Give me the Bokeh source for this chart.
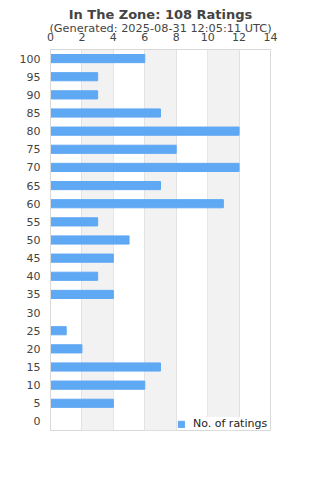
from bokeh.plotting import figure
from bokeh.models import FactorRange, Range1d, Title, Legend, LegendItem, BoxAnnotation, FixedTicker
from bokeh.embed import file_html
from bokeh.resources import INLINE

categories = ["0", "5", "10", "15", "20", "25", "30", "35", "40", "45", "50",
              "55", "60", "65", "70", "75", "80", "85", "90", "95", "100"]
counts = [0, 4, 6, 7, 2, 1, 0, 4, 3, 4, 5, 3, 11, 7, 12, 8, 12, 7, 3, 3, 6]
x_ticks = [0, 2, 4, 6, 8, 10, 12, 14]
shaded_bands = [(2, 4), (6, 8), (10, 12)]

FONT = "DejaVu Sans"
TXT = "#444444"
BAR = "#5fa8f3"

p = figure(width=320, height=480, output_backend="svg", toolbar_location=None,
           y_range=FactorRange(factors=categories, range_padding=0),
           x_range=Range1d(0, 14), x_axis_location="above",
           min_border_left=50, min_border_right=50, min_border_bottom=50, min_border_top=0)

p.title.text = "In The Zone: 108 Ratings"
p.title.align = "center"
p.title.text_font = FONT
p.title.text_font_size = "13px"
p.title.text_font_style = "bold"
p.title.text_color = TXT
p.title.offset = 0
p.title.standoff = 8
sub = Title(text="(Generated: 2025-08-31 12:05:11 UTC)", align="center",
            text_font=FONT, text_font_size="11.3px", text_font_style="normal",
            text_color=TXT, standoff=-11)
p.add_layout(sub, "above")

for a, b in shaded_bands:
    p.add_layout(BoxAnnotation(left=a, right=b, fill_color="#f2f2f2", fill_alpha=1,
                               line_color=None, level="underlay"))

r = p.hbar(y=categories, right=counts, left=0, height=0.45, color=BAR)

p.xaxis.ticker = FixedTicker(ticks=x_ticks)
p.xgrid.ticker = FixedTicker(ticks=x_ticks)
p.xgrid.grid_line_color = "#e0e0e0"
p.ygrid.grid_line_color = None
p.outline_line_color = "#d9d9d9"
p.background_fill_color = "white"

for ax in (p.xaxis[0], p.yaxis[0]):
    ax.axis_line_color = "#d9d9d9"
    ax.major_tick_line_color = None
    ax.minor_tick_line_color = None
    ax.major_label_text_font = FONT
    ax.major_label_text_font_size = "11px"
    ax.major_label_text_color = TXT
    ax.major_label_standoff = 4
p.xaxis.major_label_standoff = 3

legend = Legend(items=[LegendItem(label="No. of ratings", renderers=[r])],
                location=(127, 0), background_fill_color="white", background_fill_alpha=1,
                border_line_color=None, label_text_font=FONT, label_text_font_size="11px",
                label_text_color="#222222", glyph_width=8, glyph_height=8,
                label_standoff=8, padding=4, margin=0, label_height=12)
p.add_layout(legend)

open("out.html", "w").write(file_html(p, INLINE))
